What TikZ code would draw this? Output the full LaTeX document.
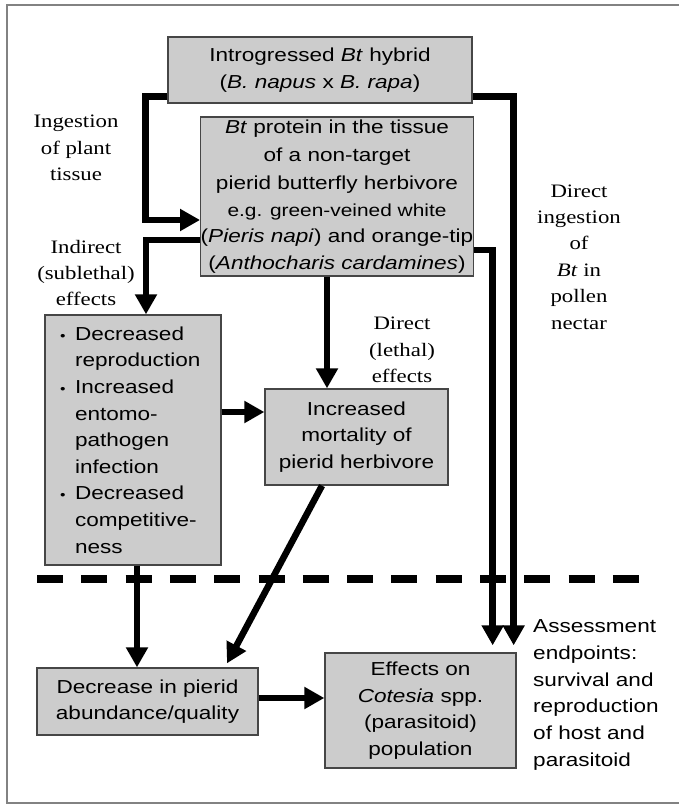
\documentclass[tikz,border=0pt]{standalone}
\usepackage{fontspec}
\setmainfont[FakeStretch=1.2]{Liberation Serif}
\setsansfont[FakeStretch=1.2]{Liberation Sans}
\usetikzlibrary{arrows.meta}
\definecolor{boxfill}{RGB}{204,204,204}
\definecolor{boxline}{RGB}{70,70,70}
\definecolor{framec}{RGB}{130,130,130}
\newcommand{\bul}{\makebox[15pt][l]{\fontsize{13}{13}\selectfont •}}
\newcommand{\ind}{\hspace*{15pt}}
\begin{document}
\begin{tikzpicture}[x=1pt,y=-1pt,
  box/.style={draw=boxline, line width=1.3pt, fill=boxfill, inner sep=0pt, align=center,
    font=\sffamily\fontsize{18.8}{26.6}\selectfont},
  conn/.style={line width=6.5pt, draw=black},
  arr/.style={conn, -{Triangle[length=20pt,width=21pt]}},
  lbl/.style={align=center, inner sep=0pt, font=\rmfamily\fontsize{19}{26.4}\selectfont},
  sidelbl/.style={align=left, inner sep=0pt, anchor=west, font=\sffamily\fontsize{18.8}{26.7}\selectfont},
]
\useasboundingbox (0,0) rectangle (679,805);
\fill[white] (0,0) rectangle (679,805);
\draw[framec, line width=2.5pt] (685,803) -- (7,803) -- (7,5) -- (685,5);

% boxes
\node[box, minimum width=304pt, minimum height=66pt] (b1) at (320,70)
  {Introgressed \textit{Bt} hybrid\\(\textit{B. napus} x \textit{B. rapa})};
\node[box, minimum width=266pt, minimum height=159pt] (b2) at (337,196.5)
  {\textit{Bt} protein in the tissue\\[1.5pt] of a non-target\\[1.5pt] pierid butterfly herbivore\\
   \fontsize{17.4}{24.5}\selectfont e.g. green-veined white\\ (\textit{Pieris napi}) and orange-tip\\ (\textit{Anthocharis cardamines})};
\node[box, minimum width=176pt, minimum height=250pt, text width=146pt, align=left] (b3) at (133,440)
  {\bul Decreased\\\ind reproduction\\\bul Increased\\\ind entomo-\\\ind pathogen\\\ind infection\\\bul Decreased\\\ind competitive-\\\ind ness};
\node[box, minimum width=183pt, minimum height=96pt] (b4) at (356.5,437)
  {Increased\\mortality of\\pierid herbivore};
\node[box, minimum width=221pt, minimum height=67pt] (b5) at (147.5,701.5)
  {Decrease in pierid\\abundance/quality};
\node[box, minimum width=191pt, minimum height=115pt] (b6) at (420.5,710.5)
  {Effects on\\\textit{Cotesia} spp.\\(parasitoid)\\population};

% labels
\node[lbl] (l1) at (76,148) {Ingestion\\of plant\\tissue};
\node[lbl] (l2) at (86,273) {Indirect\\(sublethal)\\effects};
\node[lbl] (l3) at (579,257) {Direct\\ingestion\\of\\\textit{Bt} in\\pollen\\nectar};
\node[lbl] (l4) at (402,350) {Direct\\(lethal)\\effects};
\node[sidelbl] (l5) at (533,695) {Assessment\\endpoints:\\survival and\\reproduction\\of host and\\parasitoid};

% dashed separator
\coordinate (dl) at (37,579);
\coordinate (dr) at (640,579);
\draw[line width=8pt, dash pattern=on 26pt off 18.3pt] (dl) -- (dr);

% connectors
\draw[arr] ([yshift=7pt]b1.south west) -- ++(-22pt,0) |- ([yshift=-23.5pt]b2.west);
\draw[arr] ([yshift=-43.5pt]b2.west) -| ([xshift=13pt]b3.north);
\draw[arr] ([yshift=7pt]b1.south east) -| ([xshift=-3pt,yshift=7pt]b6.north east);
\draw[arr] ([yshift=-53.5pt]b2.east) -| ([xshift=-24pt,yshift=7pt]b6.north east);
\draw[arr] ([xshift=-10pt]b2.south) -- ([xshift=-10pt]b2.south |- b4.north);
\draw[arr] ([yshift=28pt]b3.east) -- ([yshift=28pt]b3.east -| b4.west);
\draw[arr] ([xshift=4pt]b3.south) -- ([xshift=4pt]b3.south |- b5.north);
\draw[arr] ([xshift=-34.5pt]b4.south) -- ([xshift=79.5pt,yshift=4pt]b5.north);
\draw[arr] ([yshift=3.5pt]b5.east) -- ([yshift=3.5pt]b5.east -| b6.west);
\end{tikzpicture}
\end{document}
